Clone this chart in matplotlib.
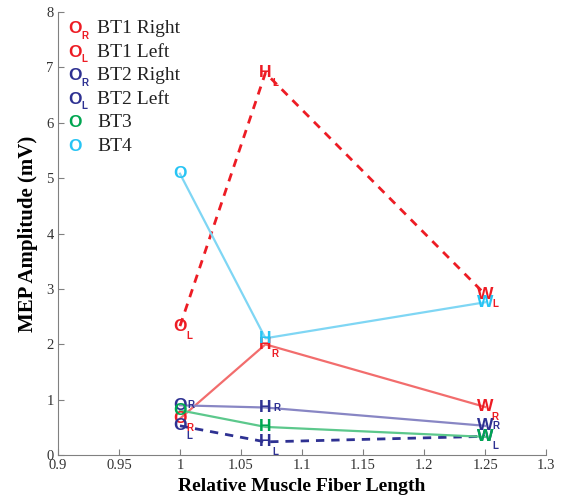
import matplotlib
matplotlib.use("Agg")
import matplotlib.pyplot as plt

x_vals = [1.0, 1.07, 1.25]
point_letters = ["O", "H", "W"]

series_names = ["BT1 Right", "BT1 Left", "BT2 Right", "BT2 Left", "BT3", "BT4"]
series_subs = ["R", "L", "R", "L", "", ""]
bt1_right = [0.66, 2.0, 0.87]
bt1_left = [2.33, 6.9, 2.9]
bt2_right = [0.9, 0.86, 0.53]
bt2_left = [0.53, 0.24, 0.34]
bt3 = [0.81, 0.51, 0.33]
bt4 = [5.08, 2.11, 2.76]
series_values = [bt1_right, bt1_left, bt2_right, bt2_left, bt3, bt4]

text_colors = ["#ED1C24", "#ED1C24", "#2E3192", "#2E3192", "#00A651", "#27C4F4"]
line_colors = ["#F26D6D", "#ED1C24", "#8886C4", "#2E3192", "#5CC88C", "#7FD6F4"]
line_styles = ["-", "--", "-", "--", "-", "-"]
sub_offsets = [(7, -7), (7, -7), (8, 0), (7, -7), (7, -7), (7, -7)]

fig = plt.figure(figsize=(5.62, 4.98), dpi=100)
ax = fig.add_axes([0.103, 0.086, 0.869, 0.89])

for vals, lc, ls in zip(series_values, line_colors, line_styles):
    ax.plot(x_vals, vals, color=lc, linestyle=ls, linewidth=2 if ls == "--" else 1.6,
            dashes=(3, 2.5) if ls == "--" else (None, None), zorder=2)

for vals, tc, sub, off in zip(series_values, text_colors, series_subs, sub_offsets):
    for xv, yv, let in zip(x_vals, vals, point_letters):
        ax.text(xv, yv, let, color=tc, fontsize=12.5, fontweight="bold",
                family="Liberation Sans", ha="center", va="center", zorder=3)
        if sub:
            ax.annotate(sub, (xv, yv), xytext=off, textcoords="offset points",
                        color=tc, fontsize=7, fontweight="bold", family="Liberation Sans",
                        ha="center", va="center", zorder=3)

ax.set_xlim(0.9, 1.3)
ax.set_ylim(0, 8)
ax.set_xticks([0.9, 0.95, 1.0, 1.05, 1.1, 1.15, 1.2, 1.25, 1.3])
ax.set_xticklabels(["0.9", "0.95", "1", "1.05", "1.1", "1.15", "1.2", "1.25", "1.3"])
ax.set_yticks(range(0, 9))
for s in ["top", "right"]:
    ax.spines[s].set_visible(False)
for s in ["left", "bottom"]:
    ax.spines[s].set_color("#808080")
    ax.spines[s].set_linewidth(0.8)
ax.tick_params(direction="in", length=4, color="#808080", labelsize=10.5, pad=3)
for lab in ax.get_xticklabels() + ax.get_yticklabels():
    lab.set_family("Liberation Serif")
    lab.set_color("#333333")

ax.set_xlabel("Relative Muscle Fiber Length", family="Liberation Serif",
              fontweight="bold", fontsize=14, labelpad=4)
ax.set_ylabel("MEP Amplitude (mV)", family="Liberation Serif",
              fontweight="bold", fontsize=15, labelpad=6)

# legend drawn as text
for i, (name, tc, sub) in enumerate(zip(series_names, text_colors, series_subs)):
    yy = 0.962 - i * 0.053
    ax.text(0.035, yy, "O", transform=ax.transAxes, color=tc, fontsize=12.5,
            fontweight="bold", family="Liberation Sans", ha="center", va="center")
    if sub:
        ax.annotate(sub, (0.035, yy), xycoords="axes fraction", xytext=(7, -5),
                    textcoords="offset points", color=tc, fontsize=7,
                    fontweight="bold", family="Liberation Sans", ha="center", va="center")
    ax.text(0.08, yy, name, transform=ax.transAxes, color="#222222", fontsize=14,
            family="Liberation Serif", ha="left", va="center")

fig.savefig("out.png", dpi=100)
